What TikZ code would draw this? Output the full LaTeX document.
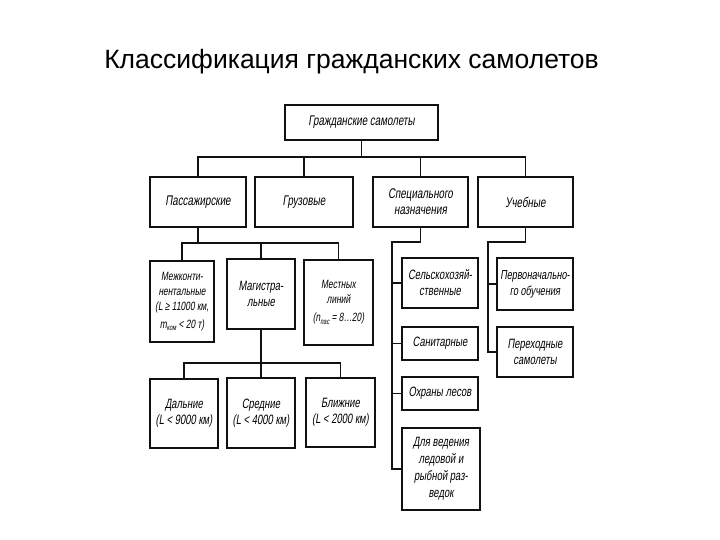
\documentclass[tikz,border=0pt]{standalone}
\usepackage{fontspec}
\setmainfont{Liberation Sans}
\newfontfamily\boxfont[FakeStretch=0.7,FakeSlant=0.15]{Liberation Sans}
\newcommand{\indice}[1]{\raisebox{-2.5pt}{\fontsize{8}{8}\selectfont #1}}
\definecolor{tinta}{HTML}{111111}

\begin{document}
\begin{tikzpicture}[x=1pt,y=-1pt, box/.style 2 args={draw=tinta,line width=2pt,minimum width=#1pt,minimum height=#2pt,inner sep=1pt,align=center,font=\boxfont\fontsize{13.5}{16}\selectfont}, big/.style={font=\boxfont\fontsize{14}{16}\selectfont}, small/.style={font=\boxfont\fontsize{12}{15}\selectfont}, link/.style={draw=tinta,line width=1.8pt}]
\useasboundingbox (0,0) rectangle (720,540);
\node[font=\fontsize{26.5}{30}\selectfont,anchor=base] (titulo) at (351.5,69) {Классификация гражданских самолетов};
% nivel 1 y 2
\node[box={153}{35},big] (top) at (361.5,122.5) {Гражданские самолеты};
\node[box={96}{50},big] (pass) at (198,202) {Пассажирские};
\node[box={98}{50},big] (gruz) at (304,202) {Грузовые};
\node[box={95}{50},big] (spec) at (420.5,202) {Специального\\назначения};
\node[box={95}{50},big] (ucheb) at (525.5,202) {Учебные};
% пассажирские
\node[box={64}{81},small] (mezh) at (182,301.5) {Межконти-\\нентальные\\(L ≥ 11000 км,\\[3pt]m\indice{ком} < 20 т)};
\node[box={68}{70}] (magist) at (261,294) {Магистра-\\льные};
\node[box={69}{85},small] (mest) at (338.5,302.5) {Местных\\линий\\[3pt](n\indice{пас} = 8…20)};
\node[box={68}{69}] (daln) at (184,413.5) {Дальние\\(L < 9000 км)};
\node[box={68}{70}] (sred) at (261,413) {Средние\\(L < 4000 км)};
\node[box={69}{69}] (blizh) at (340.5,412.5) {Ближние\\(L < 2000 км)};
% специального назначения
\node[box={76}{50}] (selhoz) at (440,283) {Сельскохозяй-\\ственные};
\node[box={76}{33}] (sanit) at (440,343.5) {Санитарные};
\node[box={76}{33}] (okhr) at (440,393.5) {Охраны лесов};
\node[box={78}{82},font=\boxfont\fontsize{13.5}{17}\selectfont] (razv) at (441,469) {Для ведения\\ледовой и\\рыбной раз-\\ведок};
% учебные
\node[box={76}{52},font=\boxfont\fontsize{13}{16}\selectfont] (perv) at (535,284) {Первоначально-\\го обучения};
\node[box={76}{50}] (perekh) at (535,352) {Переходные\\самолеты};
% связи
\coordinate (topbus) at (361.5,157);
\draw[link] (top.south) -- (topbus);
\draw[link] (pass.north) |- (topbus) -| (ucheb.north);
\draw[link] (gruz.north) -- (gruz.north |- topbus);
\draw[link] (spec.north) -- (spec.north |- topbus);
\coordinate (passbus) at (198,243);
\draw[link] (pass.south) -- (passbus);
\draw[link] (mezh.north) |- (passbus) -| (mest.north);
\draw[link] (magist.north) -- (magist.north |- passbus);
\coordinate (magbus) at (261,363);
\draw[link] (magist.south) -- (magbus);
\draw[link] (daln.north) |- (magbus) -| (blizh.north);
\draw[link] (sred.north) -- (magbus);
\coordinate (specbus) at (392,242);
\draw[link] (spec.south) |- (specbus) |- (razv.west);
\draw[link] (specbus |- selhoz) -- (selhoz.west);
\draw[link] (specbus |- sanit) -- (sanit.west);
\draw[link] (specbus |- okhr) -- (okhr.west);
\coordinate (uchbus) at (488,242);
\draw[link] (ucheb.south) |- (uchbus) |- (perekh.west);
\draw[link] (uchbus |- perv) -- (perv.west);
\end{tikzpicture}
\end{document}
